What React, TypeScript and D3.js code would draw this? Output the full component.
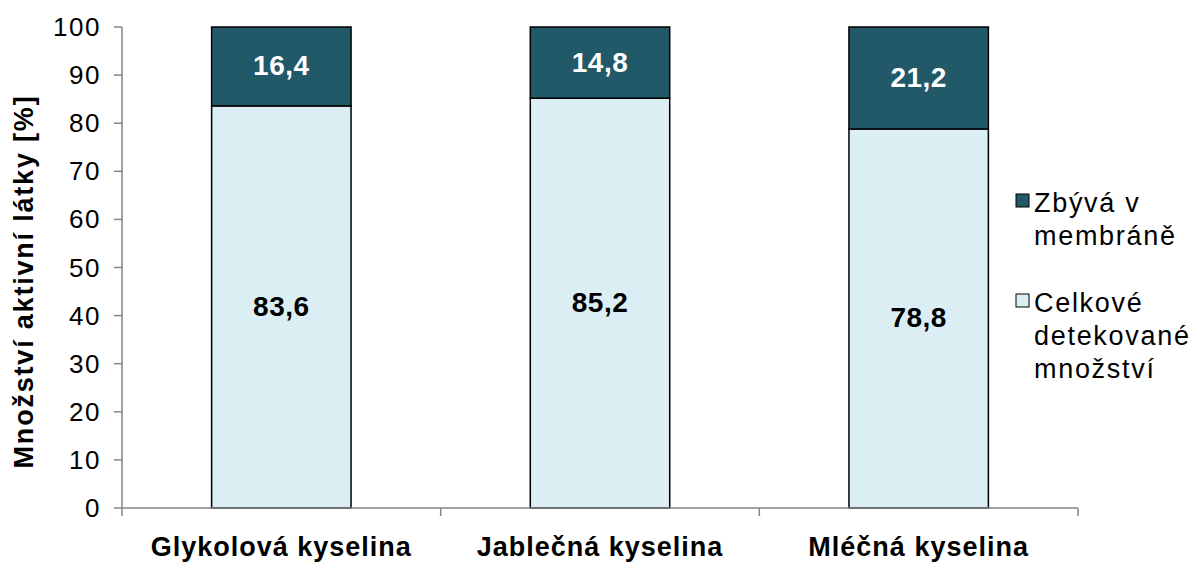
import React from "react";
import * as d3 from "d3";

const categories = ["Glykolová kyselina", "Jablečná kyselina", "Mléčná kyselina"];
const detected = [83.6, 85.2, 78.8];
const remaining = [16.4, 14.8, 21.2];
const yTicks = [0, 10, 20, 30, 40, 50, 60, 70, 80, 90, 100];
const seriesNames = ["Zbývá v membráně", "Celkové detekované množství"];

const W = 1192, H = 563;
const left = 122, right = 1078, top = 27, bottom = 508;
const DARK = "#215968";
const LIGHT = "#DBEEF4";
const AXIS = "#868686";
const FONT = "'Liberation Sans', Arial, sans-serif";

export default function App() {
  const x = d3.scaleBand().domain(categories).range([left, right]).paddingInner(0.5625).paddingOuter(0.28125);
  const y = d3.scaleLinear().domain([0, 100]).range([bottom, top]);
  const step = (right - left) / categories.length;
  const fmt = (v: number) => v.toFixed(1).replace(".", ",");

  return (
    <svg width={W} height={H} style={{ position: "absolute", left: 0, top: 0, fontFamily: FONT }}>
      <rect width={W} height={H} fill="#fff" />
      {categories.map((c, i) => {
        const bx = x(c)!;
        const bw = x.bandwidth();
        const d = detected[i], r = remaining[i];
        return (
          <g key={c}>
            <rect x={bx} y={y(d)} width={bw} height={y(0) - y(d)} fill={LIGHT} stroke="#000" strokeWidth={1.5} />
            <rect x={bx} y={y(d + r)} width={bw} height={y(d) - y(d + r)} fill={DARK} stroke="#000" strokeWidth={1.5} />
            <text x={bx + bw / 2} y={(y(d) + y(0)) / 2 + 9} textAnchor="middle" fontSize={28} fontWeight="bold" letterSpacing={0.5} fill="#000">{fmt(d)}</text>
            <text x={bx + bw / 2} y={(y(d + r) + y(d)) / 2 + 9} textAnchor="middle" fontSize={28} fontWeight="bold" letterSpacing={0.5} fill="#fff">{fmt(r)}</text>
            <text x={bx + bw / 2} y={556} textAnchor="middle" fontSize={27} fontWeight="bold" letterSpacing={1} fill="#000">{c}</text>
          </g>
        );
      })}
      {/* y axis */}
      <line x1={left} x2={left} y1={top} y2={bottom} stroke={AXIS} strokeWidth={1.5} />
      {yTicks.map(t => (
        <g key={t}>
          <line x1={left - 8} x2={left} y1={y(t)} y2={y(t)} stroke={AXIS} strokeWidth={1.5} />
          <text x={left - 21} y={y(t) + 9} textAnchor="end" fontSize={26} letterSpacing={1.5} fill="#000">{t}</text>
        </g>
      ))}
      {/* x axis */}
      <line x1={left} x2={right} y1={bottom} y2={bottom} stroke={AXIS} strokeWidth={1.5} />
      {d3.range(categories.length + 1).map(i => (
        <line key={i} x1={left + i * step} x2={left + i * step} y1={bottom} y2={bottom + 8} stroke={AXIS} strokeWidth={1.5} />
      ))}
      <text transform={`translate(33,${(top + bottom) / 2 + 14}) rotate(-90)`} textAnchor="middle" fontSize={27} fontWeight="bold" letterSpacing={1.8} fill="#000">Množství aktivní látky [%]</text>
      {/* legend */}
      <g fontSize={27} letterSpacing={1.7} fill="#000">
        <rect x={1016} y={194} width={13} height={13} fill={DARK} stroke="#000" strokeWidth={1} />
        <text x={1034} y={212}>Zbývá v</text>
        <text x={1034} y={245}>membráně</text>
        <rect x={1016} y={294} width={13} height={13} fill={LIGHT} stroke="#000" strokeWidth={1} />
        <text x={1034} y={312}>Celkové</text>
        <text x={1034} y={345}>detekované</text>
        <text x={1034} y={378}>množství</text>
      </g>
      <title>{seriesNames.join(", ")}</title>
    </svg>
  );
}
